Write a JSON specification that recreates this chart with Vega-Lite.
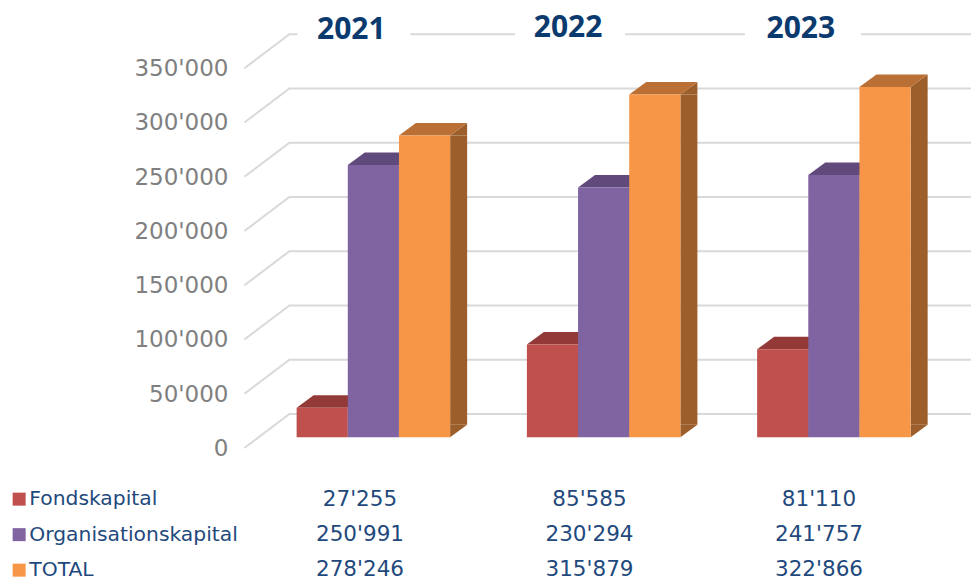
{
"$schema":"https://vega.github.io/schema/vega-lite/v6.json",
"width":971,"height":580,"autosize":{"type":"none"},"padding":0,"background":"white",
"config":{"view":{"stroke":null},"locale":{"number":{"decimal":".","thousands":"'","grouping":[3],"currency":["",""]}},"font":"DejaVu Sans"},
"datasets":{
"rows":[
{"year":"2021","series":"Fondskapital","value":27255},
{"year":"2021","series":"Organisationskapital","value":250991},
{"year":"2021","series":"TOTAL","value":278246},
{"year":"2022","series":"Fondskapital","value":85585},
{"year":"2022","series":"Organisationskapital","value":230294},
{"year":"2022","series":"TOTAL","value":315879},
{"year":"2023","series":"Fondskapital","value":81110},
{"year":"2023","series":"Organisationskapital","value":241757},
{"year":"2023","series":"TOTAL","value":322866}],
"ticks":[{"tick":0},{"tick":50000},{"tick":100000},{"tick":150000},{"tick":200000},{"tick":250000},{"tick":300000},{"tick":350000}],
"years":[{"year":"2021"},{"year":"2022"},{"year":"2023"}]
},
"layer":[
{"data":{"name":"ticks"},
 "mark":{"type":"point","shape":"M-129,10.7L-84,-23.3H598","size":4,"filled":false,"stroke":"#d9d9d9","strokeWidth":2,"opacity":1},
 "encoding":{
  "x":{"datum":"2021","type":"nominal","axis":null,"scale":{"type":"band","domain":["2021","2022","2023"],"range":[258.25,949],"paddingInner":0,"paddingOuter":0}},
  "y":{"field":"tick","type":"quantitative","scale":{"domain":[-131520,403040],"range":[580,0],"nice":false,"zero":false},
   "axis":{"orient":"left","offset":-228,"domain":false,"ticks":false,"grid":false,"title":null,"values":[0,50000,100000,150000,200000,250000,300000,350000],"format":",.0f","labelPadding":0,"labelOffset":11,"labelFont":"DejaVu Sans","labelFontSize":23,"labelColor":"#7f7f7f"}}}},
{"data":{"name":"years"},"transform":[{"filter":"datum.year=='2021'"}],
 "mark":{"type":"point","shape":"M-76,-23H37","size":4,"filled":false,"stroke":"white","strokeWidth":6,"opacity":1},
 "encoding":{"x":{"field":"year","type":"nominal","axis":null,"scale":{"type":"band","domain":["2021","2022","2023"],"range":[258.25,949],"paddingInner":0,"paddingOuter":0}},
  "y":{"datum":350000,"axis":null,"scale":{"domain":[-131520,403040],"range":[580,0],"nice":false,"zero":false}}}},
{"data":{"name":"years"},"transform":[{"filter":"datum.year=='2022'"}],
 "mark":{"type":"point","shape":"M-88.5,-23H21.5","size":4,"filled":false,"stroke":"white","strokeWidth":6,"opacity":1},
 "encoding":{"x":{"field":"year","type":"nominal","axis":null,"scale":{"type":"band","domain":["2021","2022","2023"],"range":[258.25,949],"paddingInner":0,"paddingOuter":0}},
  "y":{"datum":350000,"axis":null,"scale":{"domain":[-131520,403040],"range":[580,0],"nice":false,"zero":false}}}},
{"data":{"name":"years"},"transform":[{"filter":"datum.year=='2023'"}],
 "mark":{"type":"point","shape":"M-89,-23H27","size":4,"filled":false,"stroke":"white","strokeWidth":6,"opacity":1},
 "encoding":{"x":{"field":"year","type":"nominal","axis":null,"scale":{"type":"band","domain":["2021","2022","2023"],"range":[258.25,949],"paddingInner":0,"paddingOuter":0}},
  "y":{"datum":350000,"axis":null,"scale":{"domain":[-131520,403040],"range":[580,0],"nice":false,"zero":false}}}},
{"data":{"name":"rows"},
 "mark":{"type":"bar","width":17,"y2Offset":-12.5},
 "encoding":{
  "x":{"field":"year","type":"nominal","axis":null,"scale":{"type":"band","domain":["2021","2022","2023"],"range":[292.35,983.1],"paddingInner":0,"paddingOuter":0}},
  "xOffset":{"field":"series","type":"nominal","scale":{"domain":["Fondskapital","Organisationskapital","TOTAL"],"paddingInner":0,"paddingOuter":0.75}},
  "y":{"field":"value","type":"quantitative","stack":null,"axis":null,"scale":{"domain":[-131520,403040],"range":[580,0],"nice":false,"zero":false}},
  "y2":{"datum":0},
  "color":{"field":"series","type":"nominal","legend":null,"scale":{"domain":["Fondskapital","Organisationskapital","TOTAL"],"range":["#7f3533","#5f4a7a","#9c5f2b"]}}}},
{"data":{"name":"rows"},
 "mark":{"type":"point","shape":"M25.6,0L42.6,-12.5V0Z","size":4,"filled":true,"opacity":1},
 "encoding":{
  "x":{"field":"year","type":"nominal","axis":null,"scale":{"type":"band","domain":["2021","2022","2023"],"range":[258.25,949],"paddingInner":0,"paddingOuter":0}},
  "xOffset":{"field":"series","type":"nominal","scale":{"domain":["Fondskapital","Organisationskapital","TOTAL"],"paddingInner":0,"paddingOuter":0.75}},
  "y":{"field":"value","type":"quantitative","axis":null,"scale":{"domain":[-131520,403040],"range":[580,0],"nice":false,"zero":false}},
  "color":{"field":"series","type":"nominal","legend":null,"scale":{"domain":["Fondskapital","Organisationskapital","TOTAL"],"range":["#7f3533","#5f4a7a","#9c5f2b"]}}}},
{"data":{"name":"rows"},
 "mark":{"type":"point","shape":"M25.6,0L42.6,-12.5H25.6Z","size":4,"filled":true,"opacity":1},
 "encoding":{
  "x":{"field":"year","type":"nominal","axis":null,"scale":{"type":"band","domain":["2021","2022","2023"],"range":[258.25,949],"paddingInner":0,"paddingOuter":0}},
  "xOffset":{"field":"series","type":"nominal","scale":{"domain":["Fondskapital","Organisationskapital","TOTAL"],"paddingInner":0,"paddingOuter":0.75}},
  "y":{"datum":0,"axis":null,"scale":{"domain":[-131520,403040],"range":[580,0],"nice":false,"zero":false}},
  "color":{"field":"series","type":"nominal","legend":null,"scale":{"domain":["Fondskapital","Organisationskapital","TOTAL"],"range":["#7f3533","#5f4a7a","#9c5f2b"]}}}},
{"data":{"name":"rows"},
 "mark":{"type":"point","shape":"M-25.6,0H25.6L42.6,-12.5H-8.6Z","size":4,"filled":true,"opacity":1},
 "encoding":{
  "x":{"field":"year","type":"nominal","axis":null,"scale":{"type":"band","domain":["2021","2022","2023"],"range":[258.25,949],"paddingInner":0,"paddingOuter":0}},
  "xOffset":{"field":"series","type":"nominal","scale":{"domain":["Fondskapital","Organisationskapital","TOTAL"],"paddingInner":0,"paddingOuter":0.75}},
  "y":{"field":"value","type":"quantitative","axis":null,"scale":{"domain":[-131520,403040],"range":[580,0],"nice":false,"zero":false}},
  "color":{"field":"series","type":"nominal","legend":null,"scale":{"domain":["Fondskapital","Organisationskapital","TOTAL"],"range":["#933a38","#604a7b","#ba7035"]}}}},
{"data":{"name":"rows"},
 "mark":{"type":"bar"},
 "encoding":{
  "x":{"field":"year","type":"nominal","axis":null,"scale":{"type":"band","domain":["2021","2022","2023"],"range":[258.25,949],"paddingInner":0,"paddingOuter":0}},
  "xOffset":{"field":"series","type":"nominal","scale":{"domain":["Fondskapital","Organisationskapital","TOTAL"],"paddingInner":0,"paddingOuter":0.75}},
  "y":{"field":"value","type":"quantitative","stack":null,"axis":null,"scale":{"domain":[-131520,403040],"range":[580,0],"nice":false,"zero":false}},
  "y2":{"datum":0},
  "color":{"field":"series","type":"nominal","scale":{"domain":["Fondskapital","Organisationskapital","TOTAL"],"range":["#c0504d","#8064a2","#f79646"]},
   "legend":{"orient":"none","legendX":9,"legendY":489,"title":null,"symbolType":"square","symbolSize":169,"symbolStrokeWidth":0,"symbolOpacity":1,"labelFont":"DejaVu Sans","labelFontSize":20.3,"labelColor":"#1f497d","labelOffset":0,"rowPadding":14.5,"labelLimit":300}}}},
{"data":{"name":"years"},"transform":[{"filter":"datum.year=='2021'"}],
 "mark":{"type":"text","font":"Open Sans","fontWeight":"bold","fontSize":30,"color":"#0b3a6e","dx":-22,"dy":-27.5,"baseline":"middle"},
 "encoding":{"x":{"field":"year","type":"nominal","axis":null,"scale":{"type":"band","domain":["2021","2022","2023"],"range":[258.25,949],"paddingInner":0,"paddingOuter":0}},
  "y":{"datum":350000,"axis":null,"scale":{"domain":[-131520,403040],"range":[580,0],"nice":false,"zero":false}},"text":{"field":"year"}}},
{"data":{"name":"years"},"transform":[{"filter":"datum.year=='2022'"}],
 "mark":{"type":"text","font":"Open Sans","fontWeight":"bold","fontSize":30,"color":"#0b3a6e","dx":-35.5,"dy":-30,"baseline":"middle"},
 "encoding":{"x":{"field":"year","type":"nominal","axis":null,"scale":{"type":"band","domain":["2021","2022","2023"],"range":[258.25,949],"paddingInner":0,"paddingOuter":0}},
  "y":{"datum":350000,"axis":null,"scale":{"domain":[-131520,403040],"range":[580,0],"nice":false,"zero":false}},"text":{"field":"year"}}},
{"data":{"name":"years"},"transform":[{"filter":"datum.year=='2023'"}],
 "mark":{"type":"text","font":"Open Sans","fontWeight":"bold","fontSize":30,"color":"#0b3a6e","dx":-33,"dy":-29,"baseline":"middle"},
 "encoding":{"x":{"field":"year","type":"nominal","axis":null,"scale":{"type":"band","domain":["2021","2022","2023"],"range":[258.25,949],"paddingInner":0,"paddingOuter":0}},
  "y":{"datum":350000,"axis":null,"scale":{"domain":[-131520,403040],"range":[580,0],"nice":false,"zero":false}},"text":{"field":"year"}}},
{"data":{"name":"rows"},
 "mark":{"type":"text","font":"DejaVu Sans","fontSize":21.5,"color":"#1f497d","baseline":"middle"},
 "encoding":{
  "x":{"field":"year","type":"nominal","axis":null,"scale":{"type":"band","domain":["2021","2022","2023"],"range":[245.25,933.75],"paddingInner":0,"paddingOuter":0}},
  "y":{"field":"series","type":"nominal","axis":null,"scale":{"type":"point","domain":["Fondskapital","Organisationskapital","TOTAL"],"range":[499.5,570],"padding":0}},
  "text":{"field":"value","type":"quantitative","format":","}}}
],
"resolve":{"scale":{"x":"independent","y":"independent","color":"independent"},"axis":{"x":"independent","y":"independent"},"legend":{"color":"independent"}}
}
